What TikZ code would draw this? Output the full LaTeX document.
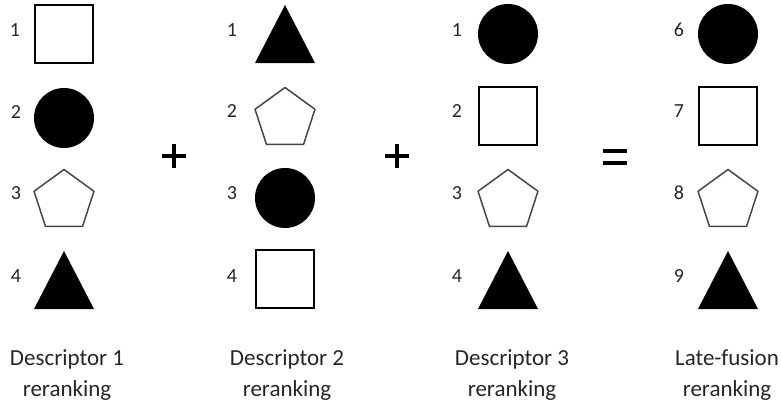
\documentclass[tikz,border=0pt]{standalone}
\usepackage{fontspec}
\setmainfont{Carlito}
\begin{document}
\begin{tikzpicture}[x=1pt,y=-1pt,
  num/.style={font=\fontsize{20}{22}\selectfont, text=black!85, inner sep=0pt},
  lab/.style={font=\fontsize{23}{31}\selectfont, text=black!85, align=center, inner sep=0pt},
  opsign/.style={line width=4pt, black},
  sqp/.pic={\draw[line width=1.3pt, fill=white] (-29,-29) rectangle (29,29);},
  dotp/.pic={\fill[black] (0,0) circle (30);},
  pentp/.pic={\draw[line width=1.5pt, black!72, line join=round]
     (0,3) +(-90:31.5) -- +(-162:31.5) -- +(-234:31.5) -- +(-306:31.5) -- +(-18:31.5) -- cycle;},
  trip/.pic={\fill[black] (0,-29) -- (30,29) -- (-30,29) -- cycle;}
]
\useasboundingbox (0,0) rectangle (781,405);
% column 1
\node[num] (n11) at (15,30) {1}; \pic at (64,34) {sqp};
\node[num] (n12) at (16,112) {2}; \pic at (64,118) {dotp};
\node[num] (n13) at (16,193) {3}; \pic at (64,198) {pentp};
\node[num] (n14) at (16,276) {4}; \pic at (64,280) {trip};
% column 2
\node[num] (n21) at (232,30) {1}; \pic at (285,34) {trip};
\node[num] (n22) at (232,111) {2}; \pic at (285,116) {pentp};
\node[num] (n23) at (232,193) {3}; \pic at (285,198) {dotp};
\node[num] (n24) at (232,276) {4}; \pic at (285,279) {sqp};
% column 3
\node[num] (n31) at (457,30) {1}; \pic at (508,34) {dotp};
\node[num] (n32) at (457,111) {2}; \pic at (508,116) {sqp};
\node[num] (n33) at (457,193) {3}; \pic at (508,198) {pentp};
\node[num] (n34) at (457,276) {4}; \pic at (508,280) {trip};
% column 4
\node[num] (n41) at (679,30) {6}; \pic at (728,34) {dotp};
\node[num] (n42) at (679,111) {7}; \pic at (728,116) {sqp};
\node[num] (n43) at (679,193) {8}; \pic at (728,198) {pentp};
\node[num] (n44) at (679,276) {9}; \pic at (728,280) {trip};
% operators
\draw[opsign] (162,156) -- (186,156) (174,144) -- (174,168);
\draw[opsign] (385,156) -- (409,156) (397,144) -- (397,168);
\draw[opsign] (603,151) -- (627,151) (603,163) -- (627,163);
% labels
\node[lab] (l1) at (67,375) {Descriptor 1\\reranking};
\node[lab] (l2) at (287,375) {Descriptor 2\\reranking};
\node[lab] (l3) at (512,375) {Descriptor 3\\reranking};
\node[lab] (l4) at (727,375) {Late-fusion\\reranking};
\end{tikzpicture}
\end{document}
